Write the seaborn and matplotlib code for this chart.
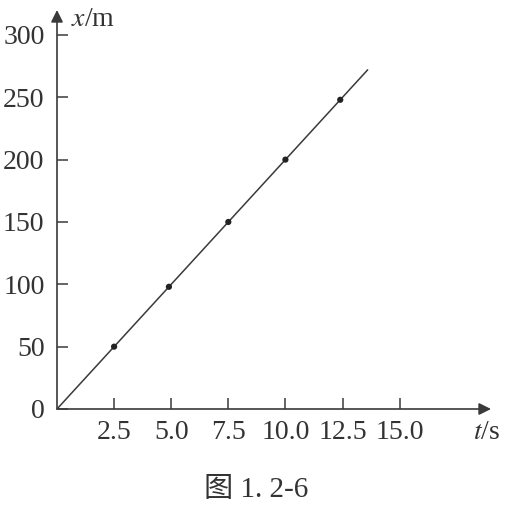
import matplotlib
matplotlib.use("Agg")
import matplotlib.pyplot as plt
import seaborn as sns
import pandas as pd

# measured points (t in s, x in m)
t_pts = [2.5, 4.9, 7.5, 10.0, 12.4]
x_pts = [50, 98, 150, 200, 248]
# fitted straight line through origin
t_line = [0, 13.6]
x_line = [0, 272]

xticks = [2.5, 5.0, 7.5, 10.0, 12.5, 15.0]
xtick_labels = ["2.5", "5.0", "7.5", "10.0", "12.5", "15.0"]
yticks = [0, 50, 100, 150, 200, 250, 300]
ytick_labels = ["0", "50", "100", "150", "200", "250", "300"]

sns.set_style("white")
plt.rcParams["font.family"] = ["Liberation Serif", "Noto Sans CJK SC"]
plt.rcParams["mathtext.fontset"] = "stix"

ink = "#3a3a3a"
fig = plt.figure(figsize=(5.06, 5.07), dpi=100)
ax = fig.add_axes([57 / 506, 98 / 507, 434 / 506, 399 / 507])

df_line = pd.DataFrame({"t": t_line, "x": x_line})
df_pts = pd.DataFrame({"t": t_pts, "x": x_pts})
sns.lineplot(data=df_line, x="t", y="x", ax=ax, color=ink, lw=1.1)
sns.scatterplot(data=df_pts, x="t", y="x", ax=ax, color="#222222", s=20,
                edgecolor="none", zorder=3)

ax.set_xlim(0, 19)
ax.set_ylim(0, 320)
for s in ax.spines.values():
    s.set_visible(False)

# axes with arrows
ax.annotate("", xy=(19, 0), xytext=(0, 0), annotation_clip=False,
            arrowprops=dict(arrowstyle="-|>", color=ink, lw=1.2,
                            mutation_scale=18, shrinkA=0, shrinkB=0))
ax.annotate("", xy=(0, 320), xytext=(0, 0), annotation_clip=False,
            arrowprops=dict(arrowstyle="-|>", color=ink, lw=1.2,
                            mutation_scale=18, shrinkA=0, shrinkB=0))

ax.set_xticks(xticks)
ax.set_xticklabels(xtick_labels)
ax.set_yticks(yticks)
ax.set_yticklabels(ytick_labels)
ax.tick_params(axis="both", direction="in", length=8, width=1.1, color=ink,
               labelsize=20, labelcolor="#333333", pad=8,
               bottom=True, left=True)
ax.tick_params(axis="y", pad=9)
ax.set_xlabel("")
ax.set_ylabel("")

ax.text(0.6, 312, r"$x$/m", fontsize=20, color="#333333", ha="left", va="center")
ax.text(18.2, -19, r"$t$/s", fontsize=20, color="#333333", ha="left", va="center")

fig.text(256 / 506, 1 - 490 / 507, "图 1. 2-6", fontsize=21, color="#333333",
         ha="center", va="center")

fig.savefig("out.png", dpi=100)
